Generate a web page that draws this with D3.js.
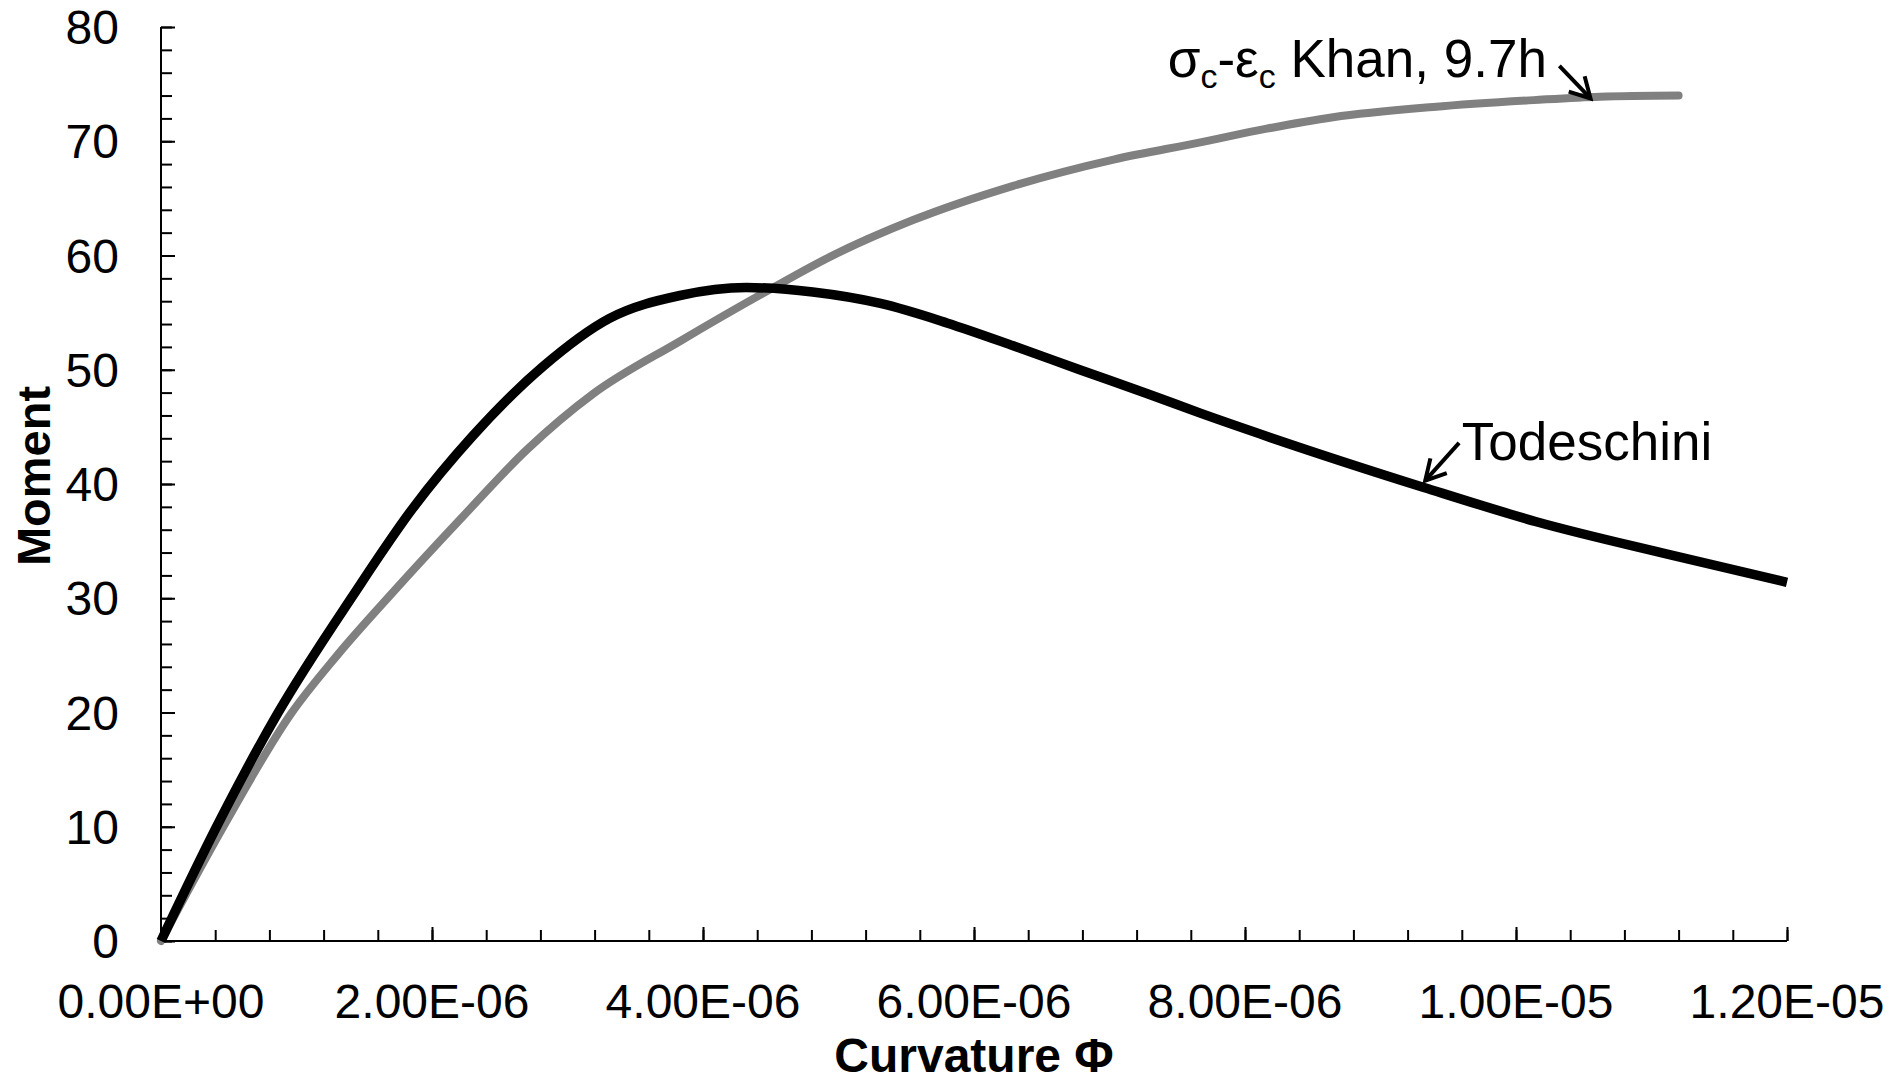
<!DOCTYPE html>
<html>
<head>
<meta charset="utf-8">
<script src="https://cdn.jsdelivr.net/npm/d3@7"></script>
<style>
  body { margin: 0; background: #fff; }
  svg { display: block; font-family: "Liberation Sans", Arial, sans-serif; }
</style>
</head>
<body>
<div id="chart"></div>
<script>
const width = 1891, height = 1081;
const margin = { top: 27, right: 104, bottom: 140, left: 161 };

// curvature and moment values
const todeschiniPhi = [0, 0.41e-6, 0.86e-6, 1.42e-6, 1.86e-6, 2.30e-6, 2.82e-6, 3.31e-6, 3.83e-6,
  4.32e-6, 4.81e-6, 5.31e-6, 5.80e-6, 6.29e-6, 6.78e-6, 7.28e-6, 7.67e-6, 8.18e-6, 9.32e-6,
  10.15e-6, 11.14e-6, 12.0e-6];
const todeschiniM = [0, 10.0, 19.9, 30.3, 37.9, 44.2, 50.3, 54.5, 56.5,
  57.2, 56.8, 55.8, 54.1, 52.1, 50.0, 47.9, 46.2, 44.1, 39.7,
  36.7, 33.8, 31.4];

const khanPhi = [0, 0.46e-6, 0.96e-6, 1.30e-6, 1.71e-6, 2.20e-6, 2.70e-6, 3.19e-6, 3.83e-6, 4.49e-6,
  4.94e-6, 5.55e-6, 6.29e-6, 7.03e-6, 7.67e-6, 8.16e-6, 8.65e-6, 9.39e-6, 10.13e-6,
  10.62e-6, 11.2e-6];
const khanM = [0, 10.0, 19.9, 25.0, 30.5, 36.8, 43.0, 47.9, 52.5, 57.0,
  59.9, 63.1, 66.1, 68.4, 69.9, 71.1, 72.1, 73.0, 73.6,
  73.9, 74.0];

const xTicks = [0, 2e-6, 4e-6, 6e-6, 8e-6, 1e-5, 1.2e-5];
const xTickLabels = ["0.00E+00", "2.00E-06", "4.00E-06", "6.00E-06", "8.00E-06", "1.00E-05", "1.20E-05"];
const yTicks = [0, 10, 20, 30, 40, 50, 60, 70, 80];

const x = d3.scaleLinear().domain([0, 1.2e-5]).range([margin.left, width - margin.right]);
const y = d3.scaleLinear().domain([0, 80]).range([height - margin.bottom, margin.top]);

const svg = d3.select("#chart").append("svg")
  .attr("width", width).attr("height", height);

svg.append("defs").append("marker")
  .attr("id", "arrow")
  .attr("viewBox", "-24 -14 28 28")
  .attr("refX", 0).attr("refY", 0)
  .attr("markerWidth", 28).attr("markerHeight", 28)
  .attr("markerUnits", "userSpaceOnUse")
  .attr("orient", "auto")
  .append("path")
  .attr("d", "M-20,-11 L0,0 L-20,11")
  .attr("fill", "none").attr("stroke", "#000").attr("stroke-width", 4);

// minor ticks first, then majors on top
const xAxis = svg.append("g")
  .attr("transform", `translate(0,${y(0)})`)
  .call(d3.axisTop(x).tickValues(d3.range(0, 31).map(i => i * 0.4e-6)).tickSize(11).tickFormat(""));
const xMajor = svg.append("g")
  .attr("transform", `translate(0,${y(0)})`)
  .call(d3.axisTop(x).tickValues(xTicks).tickSize(14).tickFormat(""));
const yAxis = svg.append("g")
  .attr("transform", `translate(${x(0)},0)`)
  .call(d3.axisRight(y).tickValues(d3.range(0, 41).map(i => i * 2)).tickSize(11).tickFormat(""));
const yMajor = svg.append("g")
  .attr("transform", `translate(${x(0)},0)`)
  .call(d3.axisRight(y).tickValues(yTicks).tickSize(14).tickFormat(""));

[xAxis, xMajor, yAxis, yMajor].forEach(g => {
  g.selectAll("path.domain").attr("stroke", "#000").attr("stroke-width", 2);
  g.selectAll(".tick line").attr("stroke", "#000").attr("stroke-width", 2);
});
xMajor.select("path.domain").remove();
yMajor.select("path.domain").remove();
xAxis.select("path.domain").attr("d", `M${x(0)},0H${x(1.2e-5)}`);
yAxis.select("path.domain").attr("d", `M0,${y(0)}V${y(80)}`);

// tick labels
svg.append("g").selectAll("text")
  .data(xTicks)
  .join("text")
  .attr("x", d => x(d))
  .attr("y", y(0) + 77)
  .attr("text-anchor", "middle")
  .attr("font-size", 48)
  .text((d, i) => xTickLabels[i]);

svg.append("g").selectAll("text")
  .data(yTicks)
  .join("text")
  .attr("x", x(0) - 42)
  .attr("y", d => y(d) + 17)
  .attr("text-anchor", "end")
  .attr("font-size", 48)
  .text(d => d);

// axis titles
svg.append("text")
  .attr("x", 974).attr("y", 1072)
  .attr("text-anchor", "middle")
  .attr("font-size", 48).attr("font-weight", "bold")
  .text("Curvature Φ");

svg.append("text")
  .attr("transform", "translate(50,476) rotate(-90)")
  .attr("text-anchor", "middle")
  .attr("font-size", 47).attr("font-weight", "bold")
  .text("Moment");

// curves
const line = d3.line().x(d => x(d[0])).y(d => y(d[1])).curve(d3.curveMonotoneX);

svg.append("path")
  .datum(khanPhi.map((p, i) => [p, khanM[i]]))
  .attr("d", line)
  .attr("fill", "none").attr("stroke", "#808080")
  .attr("stroke-width", 8).attr("stroke-linecap", "round").attr("stroke-linejoin", "round");

svg.append("path")
  .datum(todeschiniPhi.map((p, i) => [p, todeschiniM[i]]))
  .attr("d", line)
  .attr("fill", "none").attr("stroke", "#000")
  .attr("stroke-width", 9.5).attr("stroke-linejoin", "round");

// annotations
svg.append("line")
  .attr("x1", x(10.32e-6)).attr("y1", y(76.6))
  .attr("x2", x(10.55e-6)).attr("y2", y(73.75))
  .attr("stroke", "#000").attr("stroke-width", 4)
  .attr("marker-end", "url(#arrow)");

svg.append("line")
  .attr("x1", x(9.58e-6)).attr("y1", y(43.6))
  .attr("x2", x(9.33e-6)).attr("y2", y(40.3))
  .attr("stroke", "#000").attr("stroke-width", 4)
  .attr("marker-end", "url(#arrow)");

svg.append("text")
  .attr("x", x(9.6e-6)).attr("y", y(42.1))
  .attr("font-size", 53)
  .text("Todeschini");

const khan = svg.append("text")
  .attr("x", x(7.43e-6)).attr("y", y(75.6))
  .attr("font-size", 53);
khan.append("tspan").text("σ");
khan.append("tspan").attr("font-size", 34).attr("dy", 11).text("c");
khan.append("tspan").attr("dy", -11).text("-ε");
khan.append("tspan").attr("font-size", 34).attr("dy", 11).text("c");
khan.append("tspan").attr("dy", -11).text(" Khan, 9.7h");
</script>
</body>
</html>
